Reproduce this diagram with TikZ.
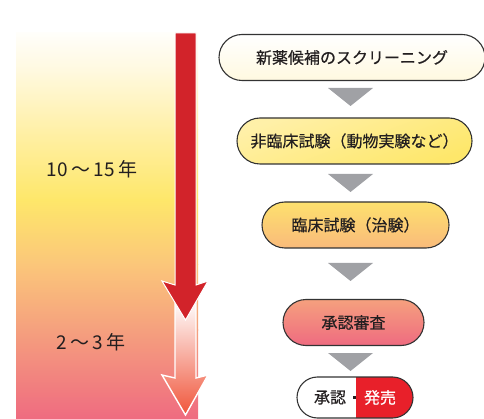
\documentclass[tikz,border=0pt]{standalone}
\usepackage{fontspec}
\setmainfont{Noto Sans CJK JP}
\newfontfamily\jpm[FakeBold=0.5]{Noto Sans CJK JP}
\usetikzlibrary{shapes.misc,calc}
\definecolor{bgA}{HTML}{FFFEFA}
\definecolor{bgB}{HTML}{FFF9E0}
\definecolor{bgC}{HTML}{FFF0A8}
\definecolor{bgD}{HTML}{FEE76A}
\definecolor{bgE}{HTML}{FBC67A}
\definecolor{bgF}{HTML}{F5A07E}
\definecolor{bgG}{HTML}{EF6B80}
\definecolor{redarr}{HTML}{D2232A}
\definecolor{arrEnd}{HTML}{F0553A}
\definecolor{tri}{HTML}{A0A1A5}
\definecolor{edge}{HTML}{333333}
\definecolor{sale}{HTML}{E8202A}
\definecolor{txt}{HTML}{231F20}
\tikzset{
  flowbox/.style={draw=edge, line width=1.1pt, rounded rectangle, minimum height=46pt,
    inner sep=0pt, font=\jpm\fontsize{16}{16}\selectfont, text=txt},
  yearlbl/.style={font=\fontsize{19}{19}\selectfont, text=txt, inner sep=0pt},
  downtri/.style={fill=tri, draw=none},
}
\newcommand{\ygap}{\hspace{3.5pt}}
\begin{document}
\begin{tikzpicture}[x=1pt,y=-1pt]
\useasboundingbox (0,0) rectangle (484,419);
% background gradient
\shade[top color=bgA, bottom color=bgB] (16,33) rectangle (198,70);
\shade[top color=bgB, bottom color=bgC] (16,69.5) rectangle (198,130);
\shade[top color=bgC, bottom color=bgD] (16,129.5) rectangle (198,200);
\shade[top color=bgD, bottom color=bgE] (16,199.5) rectangle (198,265);
\shade[top color=bgE, bottom color=bgF] (16,264.5) rectangle (198,330);
\shade[top color=bgF, bottom color=bgG] (16,329.5) rectangle (198,419);
% year labels
\node[yearlbl] (y1) at (92,169) {1\hspace{0.5pt}0\ygap{}～\ygap{}1\hspace{0.5pt}5\ygap{}年};
\node[yearlbl] (y2) at (91,342) {2\ygap{}～\ygap{}3\ygap{}年};
% second (gradient) arrow
\shade[top color=white, bottom color=arrEnd, draw=white, line width=1.4pt, line join=miter]
  (175,300) -- (196,300) -- (196,378) -- (208,375) -- (185.5,415) -- (162,375) -- (175,378) -- cycle;
% red arrow
\fill[redarr, draw=white, line width=1pt, line join=miter]
  (175,33) -- (196,33) -- (196,285) -- (208,281) -- (185.5,320) -- (162,281) -- (175,285) -- cycle;
% flow boxes
\node[flowbox, minimum width=266pt, top color=white, bottom color=bgB] (b1) at (352,57.5) {新薬候補のスクリーニング};
\node[flowbox, minimum width=235pt, top color=bgC, bottom color=bgD, shading angle=20] (b2) at (354.5,141) {非臨床試験（動物実験など）};
\node[flowbox, minimum width=187pt, top color=bgD!80!bgE, bottom color=bgE!70!bgF] (b3) at (355.5,225) {臨床試験（治験）};
\node[flowbox, minimum width=141pt, top color=bgF, bottom color=bgG] (b4) at (353.5,322.5) {承認審査};
% last box
\node[rounded rectangle, minimum width=116pt, minimum height=41pt, inner sep=0pt, fill=white] (b5) at (355,397.5) {};
\begin{scope}
  \clip (356,370) rectangle (420,425);
  \node[rounded rectangle, minimum width=116pt, minimum height=41pt, inner sep=0pt, fill=sale] at (b5.center) {};
\end{scope}
\node[rounded rectangle, minimum width=116pt, minimum height=41pt, inner sep=0pt, draw=edge, line width=1.1pt] at (b5.center) {};
\node[font=\jpm\fontsize{16}{16}\selectfont, text=txt, inner sep=0pt] (t1) at (330,397.5) {承認};
\fill[txt] (352.5,396) rectangle (355.5,399);
\node[font=\jpm\fontsize{16}{16}\selectfont, text=white, inner sep=0pt] (t2) at (380,397.5) {発売};
% gray triangles
\coordinate (g1) at (350.5,88);
\coordinate (g2) at (350.5,174);
\coordinate (g3) at (350.5,263);
\coordinate (g4) at (350.5,353);
\foreach \g in {g1,g2,g3,g4}{
  \fill[downtri] ($(\g)+(-22.5,0)$) -- ($(\g)+(22.5,0)$) -- ($(\g)+(0,18)$) -- cycle;
}
\end{tikzpicture}
\end{document}
